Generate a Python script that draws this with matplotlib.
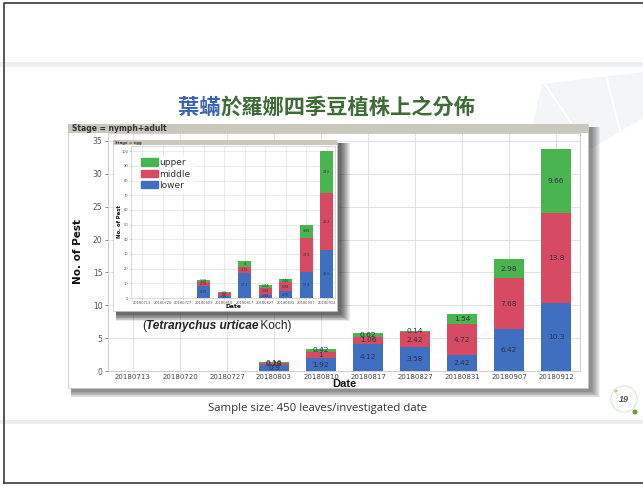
import numpy as np
import matplotlib
matplotlib.use('Agg')
import matplotlib.pyplot as plt
from matplotlib.patches import Rectangle, Polygon, Ellipse, Patch
from matplotlib.lines import Line2D

W, H = 643, 486

dates = ['20180713', '20180720', '20180727', '20180803', '20180810',
         '20180817', '20180827', '20180831', '20180907', '20180912']

# nymph + adult counts per leaf layer
adult_lower = [0, 0, 0, 0.9, 1.92, 4.12, 3.58, 2.42, 6.42, 10.3]
adult_middle = [0, 0, 0, 0.28, 1, 1.06, 2.42, 4.72, 7.68, 13.8]
adult_upper = [0, 0, 0, 0.16, 0.42, 0.62, 0.14, 1.54, 2.98, 9.66]

# egg counts per leaf layer
egg_lower = [0, 0, 0, 8.16, 1.5, 17.3, 2.06, 4.76, 17.9, 32.5]
egg_middle = [0, 0, 0, 2.76, 1.6, 3.76, 4.88, 5.88, 22.9, 39.2]
egg_upper = [0, 0, 0, 1.08, 0.9, 4, 1.84, 2.46, 9.08, 28.6]

layer_colors = {'lower': '#3f6fc0', 'middle': '#d84a62', 'upper': '#48b54e'}


def fx(x):
    return x / W


def fy(y):
    return 1 - y / H


def box(fig, x0, y0, x1, y1, z, **kw):
    r = Rectangle((fx(x0), fy(y1)), (x1 - x0) / W, (y1 - y0) / H,
                  transform=fig.transFigure, zorder=z, **kw)
    fig.add_artist(r)
    return r


def shadow(fig, x0, y0, x1, y1, z, off=4, n=8, alpha=0.07):
    # soft drop shadow to the right and below
    for i in range(n):
        s = n - i
        box(fig, x0 + off, y0 + off, x1 + off + s, y1 + off + s * 0.7, z,
            color='black', alpha=alpha, lw=0)


def stacked(ax, layers, width, fontsize, label_color):
    x = np.arange(len(dates))
    bottom = np.zeros(len(dates))
    for name, vals in layers:
        vals = np.asarray(vals, dtype=float)
        ax.bar(x, vals, width, bottom=bottom, color=layer_colors[name],
               edgecolor='none', zorder=3, label=name)
        for xi, v, b in zip(x, vals, bottom):
            if v > 0:
                ax.text(xi, b + v / 2, f'{v:g}', ha='center', va='center',
                        fontsize=fontsize, color=label_color, zorder=4)
        bottom += vals


def text_run(fig, renderer, x, y, pieces, z=10):
    # pieces drawn one after another, left to right, in pixel space
    for s, kw in pieces:
        t = fig.text(fx(x), fy(y), s, ha='left', va='center', zorder=z, **kw)
        bb = t.get_window_extent(renderer)
        x += bb.width


fig = plt.figure(figsize=(W / 100, H / 100), dpi=100)
fig.patch.set_facecolor('white')
renderer = fig.canvas.get_renderer()

# slide bands and frame
box(fig, 0, 62, W, 67, -5, color='#eeeff0', lw=0)
box(fig, 0, 420, W, 424, -5, color='#eeeff0', lw=0)
fig.add_artist(Polygon([(fx(528), fy(148)), (fx(542), fy(84)), (fx(643), fy(72)),
                        (fx(643), fy(118)), (fx(592), fy(148))],
                       closed=True, transform=fig.transFigure,
                       color='#f4f5f6', lw=0, zorder=-4))
for (xa, ya), (xb, yb) in [((545, 84), (588, 148)), ((606, 76), (620, 130))]:
    fig.add_artist(Line2D([fx(xa), fx(xb)], [fy(ya), fy(yb)],
                          transform=fig.transFigure, color='white', lw=1.5, zorder=-3))
fig.add_artist(Line2D([fx(4), fx(4), fx(643)], [fy(483), fy(3), fy(3)],
                      transform=fig.transFigure, color='#3a3a3a', lw=1.2, zorder=20))
fig.add_artist(Line2D([fx(4), fx(643)], [fy(483), fy(483)],
                      transform=fig.transFigure, color='#3a3a3a', lw=1.2, zorder=20))

# title
cjk = ['Noto Sans CJK TC', 'DejaVu Sans']
text_run(fig, renderer, 178, 107.5, [
    ('葉蟎', dict(fontsize=15.3, fontweight='bold', color='#3b64ae', family=cjk)),
    ('於羅娜四季豆植株上之分佈', dict(fontsize=15.3, fontweight='bold', color='#3e6b36', family=cjk)),
])

# main panel: nymph + adult
shadow(fig, 68, 124, 588, 388, 0.5, off=3, n=9, alpha=0.06)
box(fig, 68, 124, 588, 388, 0.6, facecolor='white', edgecolor='#c4c4c4', lw=0.5)
box(fig, 68, 124, 588, 133, 0.7, color='#cac8bd', lw=0)
fig.text(fx(72), fy(128.8), 'Stage = nymph+adult', fontsize=5.5, fontweight='bold',
         color='#333333', va='center', zorder=0.8)

ax = fig.add_axes([fx(108), fy(371), (580 - 108) / W, (371 - 133) / H])
ax.set_zorder(1)
ax.set_facecolor('white')
stacked(ax, [('lower', adult_lower), ('middle', adult_middle), ('upper', adult_upper)],
        0.62, 5.3, '#30304a')
ax.set_xlim(-0.53, 9.51)
ax.set_ylim(0, 36.2)
ax.set_yticks(np.arange(0, 36, 5))
ax.set_xticks(np.arange(len(dates)))
ax.set_xticklabels(dates)
ax.tick_params(axis='x', labelsize=5, colors='#444444', length=0, pad=2)
ax.tick_params(axis='y', labelsize=5.5, colors='#555555', length=2, width=0.5, pad=2)
ax.grid(True, color='#dddddd', lw=0.6)
ax.set_axisbelow(True)
for sp in ax.spines.values():
    sp.set_color('#c8c8c8')
    sp.set_linewidth(0.6)
fig.text(fx(78), fy(251), 'No. of Pest', rotation=90, ha='center', va='center',
         fontsize=7.5, fontweight='bold', family=['Liberation Sans Narrow', 'DejaVu Sans'],
         color='#111111', zorder=5)
fig.text(fx(344), fy(384), 'Date', ha='center', va='center', fontsize=8,
         fontweight='bold', family='Liberation Sans', color='#111111', zorder=5)

# inset panel: egg
shadow(fig, 113, 140, 337, 311, 2, off=3, n=10, alpha=0.08)
box(fig, 113, 140, 337, 311, 2.1, facecolor='white', edgecolor='#bbbbbb', lw=0.4)
box(fig, 113, 140, 337, 145, 2.2, color='#cac8bd', lw=0)
fig.text(fx(115), fy(142.6), 'Stage = egg', fontsize=2.8, fontweight='bold',
         color='#333333', va='center', zorder=2.3)

ax_in = fig.add_axes([fx(131), fy(298), (335 - 131) / W, (298 - 146) / H])
ax_in.set_zorder(3)
ax_in.set_facecolor('white')
stacked(ax_in, [('lower', egg_lower), ('middle', egg_middle), ('upper', egg_upper)],
        0.63, 2.3, '#30304a')
ax_in.set_xlim(-0.54, 9.41)
ax_in.set_ylim(0, 103.6)
ax_in.set_yticks(np.arange(0, 101, 10))
ax_in.set_xticks(np.arange(len(dates)))
ax_in.set_xticklabels(dates)
ax_in.tick_params(labelsize=2.6, colors='#555555', length=1, width=0.4, pad=1)
ax_in.grid(True, color='#e2e2e2', lw=0.5)
ax_in.set_axisbelow(True)
for sp in ax_in.spines.values():
    sp.set_color('#cccccc')
    sp.set_linewidth(0.5)
handles = [Patch(color=layer_colors[n]) for n in ['upper', 'middle', 'lower']]
leg = ax_in.legend(handles, ['upper', 'middle', 'lower'], loc='upper left',
                   bbox_to_anchor=(fx(135), fy(152)), bbox_transform=fig.transFigure,
                   fontsize=6.5, handlelength=1.8, handleheight=0.9, labelspacing=0.25,
                   handletextpad=0.2, borderpad=0.2, frameon=True, fancybox=False,
                   facecolor='white', edgecolor='white', framealpha=1)
for t in leg.get_texts():
    t.set_color('#333333')
fig.text(fx(119.5), fy(222), 'No. of Pest', rotation=90, ha='center', va='center',
         fontsize=3.8, fontweight='bold', color='#111111', zorder=4)
fig.text(fx(233), fy(307), 'Date', ha='center', va='center', fontsize=4.3,
         fontweight='bold', color='#111111', zorder=4)

# species note
text_run(fig, renderer, 142, 326, [
    ('(', dict(fontsize=8.6, family='Liberation Sans', color='#222222')),
    ('Tetranychus urticae', dict(fontsize=8.6, family='Liberation Sans', style='italic',
                                 fontweight='bold', color='#222222')),
    ('\u2009Koch)', dict(fontsize=8.6, family='Liberation Sans', color='#222222')),
])

fig.text(fx(317), fy(408), 'Sample size: 450 leaves/investigated date', ha='center',
         va='center', fontsize=8.2, family='Open Sans', color='#333333', zorder=10)

# page number badge
fig.add_artist(Ellipse((fx(624), fy(399)), 26 / W, 26 / H, transform=fig.transFigure,
                       facecolor='none', edgecolor='#dcebd0', lw=0.8, zorder=5))
fig.add_artist(Ellipse((fx(635), fy(412)), 5 / W, 5 / H, transform=fig.transFigure,
                       color='#6b9e35', lw=0, zorder=6))
fig.add_artist(Ellipse((fx(616), fy(391)), 3.5 / W, 3.5 / H, transform=fig.transFigure,
                       color='#b5d98a', lw=0, zorder=6))
fig.text(fx(624), fy(399), '19', ha='center', va='center', fontsize=6.5,
         family='Liberation Sans', style='italic', fontweight='bold',
         color='#555555', zorder=7)

fig.savefig('out.png', dpi=100)
